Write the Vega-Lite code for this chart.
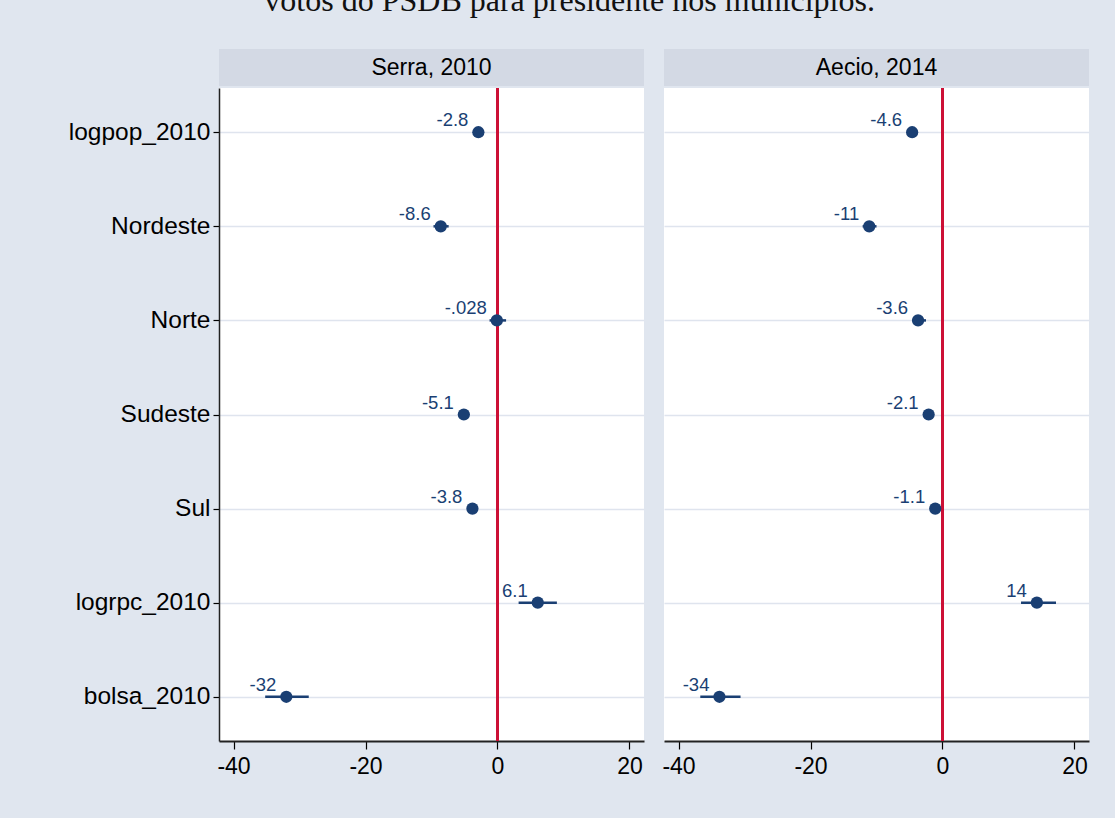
{
  "$schema": "https://vega.github.io/schema/vega-lite/v6.json",
  "background": "#e0e6ef",
  "padding": {"top": -15, "left": 68, "right": 30, "bottom": 50},
  "title": {
    "text": "votos do PSDB para presidente nos municípios.",
    "font": "Liberation Serif",
    "fontSize": 32,
    "fontWeight": "normal",
    "color": "#111111",
    "anchor": "middle",
    "dx": -9,
    "offset": 31
  },
  "datasets": {
    "coef": [
      {"model": "Serra", "var": "logpop_2010", "b": -2.9, "lo": -3.4, "hi": -2.4, "lab": "-2.8"},
      {"model": "Serra", "var": "Nordeste", "b": -8.6, "lo": -9.7, "hi": -7.4, "lab": "-8.6"},
      {"model": "Serra", "var": "Norte", "b": -0.1, "lo": -1.2, "hi": 1.3, "lab": "-.028"},
      {"model": "Serra", "var": "Sudeste", "b": -5.1, "lo": -5.7, "hi": -4.5, "lab": "-5.1"},
      {"model": "Serra", "var": "Sul", "b": -3.8, "lo": -4.4, "hi": -3.2, "lab": "-3.8"},
      {"model": "Serra", "var": "logrpc_2010", "b": 6.1, "lo": 3.2, "hi": 9.0, "lab": "6.1"},
      {"model": "Serra", "var": "bolsa_2010", "b": -32.0, "lo": -35.2, "hi": -28.6, "lab": "-32"},
      {"model": "Aecio", "var": "logpop_2010", "b": -4.6, "lo": -5.1, "hi": -4.1, "lab": "-4.6"},
      {"model": "Aecio", "var": "Nordeste", "b": -11.1, "lo": -12.1, "hi": -10.0, "lab": "-11"},
      {"model": "Aecio", "var": "Norte", "b": -3.7, "lo": -4.6, "hi": -2.5, "lab": "-3.6"},
      {"model": "Aecio", "var": "Sudeste", "b": -2.1, "lo": -2.6, "hi": -1.6, "lab": "-2.1"},
      {"model": "Aecio", "var": "Sul", "b": -1.1, "lo": -1.6, "hi": -0.6, "lab": "-1.1"},
      {"model": "Aecio", "var": "logrpc_2010", "b": 14.3, "lo": 11.9, "hi": 17.2, "lab": "14"},
      {"model": "Aecio", "var": "bolsa_2010", "b": -33.8, "lo": -36.7, "hi": -30.6, "lab": "-34"}
    ]
  },
  "bounds": "flush",
  "columns": 2,
  "spacing": {"row": 2, "column": 20},
  "concat": [
    {
      "width": 425, "height": 37,
      "view": {"fill": "#d3d9e4", "stroke": null},
      "data": {"values": [{"t": "Serra, 2010"}]},
      "mark": {"type": "text", "fontSize": 23, "font": "Liberation Sans", "color": "#000000"},
      "encoding": {"text": {"field": "t"}}
    },
    {
      "width": 425, "height": 37,
      "view": {"fill": "#d3d9e4", "stroke": null},
      "data": {"values": [{"t": "Aecio, 2014"}]},
      "mark": {"type": "text", "fontSize": 23, "font": "Liberation Sans", "color": "#000000"},
      "encoding": {"text": {"field": "t"}}
    },
    {
      "width": 425, "height": 653,
      "view": {"fill": "#ffffff", "stroke": null},
      "data": {"name": "coef"},
      "transform": [{"filter": "datum.model === 'Serra'"}],
      "encoding": {
        "y": {
          "field": "var", "type": "nominal",
          "scale": {"type": "point", "padding": 0.47, "domain": ["logpop_2010", "Nordeste", "Norte", "Sudeste", "Sul", "logrpc_2010", "bolsa_2010"]},
          "axis": {"title": null, "labelFontSize": 24.5, "labelColor": "#000000", "labelPadding": 3, "tickSize": 6, "tickColor": "#000000", "tickWidth": 1.2, "domainColor": "#222222", "domainWidth": 1.5, "grid": true, "gridColor": "#dfe4ee", "gridWidth": 1.5}
        }
      },
      "layer": [
        {
          "mark": {"type": "rule", "color": "#cc1036", "strokeWidth": 2},
          "encoding": {"x": {"datum": 0, "type": "quantitative", "scale": {"domain": [-42.2, 22.2], "nice": false, "zero": false}}, "y": null}
        },
        {
          "mark": {"type": "rule", "color": "#1a3f73", "strokeWidth": 2.5},
          "encoding": {
            "x": {"field": "lo", "type": "quantitative", "scale": {"domain": [-42.2, 22.2], "nice": false, "zero": false},
              "axis": {"title": null, "values": [-40, -20, 0, 20], "labelExpr": "replace(datum.label, '−', '-')", "labelFontSize": 23, "labelColor": "#000000", "labelPadding": 6, "tickSize": 8, "tickColor": "#000000", "tickWidth": 1.2, "domainColor": "#222222", "domainWidth": 2, "grid": false}},
            "x2": {"field": "hi"}
          }
        },
        {
          "mark": {"type": "point", "filled": true, "opacity": 1, "size": 150, "color": "#1a3f73"},
          "encoding": {"x": {"field": "b", "type": "quantitative"}}
        },
        {
          "mark": {"type": "text", "align": "right", "baseline": "alphabetic", "dx": -10, "dy": -6, "fontSize": 18.5, "font": "Liberation Sans", "color": "#1a3f73"},
          "encoding": {"x": {"field": "b", "type": "quantitative"}, "text": {"field": "lab"}}
        }
      ]
    },
    {
      "width": 425, "height": 653,
      "view": {"fill": "#ffffff", "stroke": null},
      "data": {"name": "coef"},
      "transform": [{"filter": "datum.model === 'Aecio'"}],
      "encoding": {
        "y": {
          "field": "var", "type": "nominal",
          "scale": {"type": "point", "padding": 0.47, "domain": ["logpop_2010", "Nordeste", "Norte", "Sudeste", "Sul", "logrpc_2010", "bolsa_2010"]},
          "axis": {"title": null, "labels": false, "ticks": false, "domain": false, "grid": true, "gridColor": "#dfe4ee", "gridWidth": 1.5}
        }
      },
      "layer": [
        {
          "mark": {"type": "rule", "color": "#cc1036", "strokeWidth": 2},
          "encoding": {"x": {"datum": 0, "type": "quantitative", "scale": {"domain": [-42.2, 22.2], "nice": false, "zero": false}}, "y": null}
        },
        {
          "mark": {"type": "rule", "color": "#1a3f73", "strokeWidth": 2.5},
          "encoding": {
            "x": {"field": "lo", "type": "quantitative", "scale": {"domain": [-42.2, 22.2], "nice": false, "zero": false},
              "axis": {"title": null, "values": [-40, -20, 0, 20], "labelExpr": "replace(datum.label, '−', '-')", "labelFontSize": 23, "labelColor": "#000000", "labelPadding": 6, "tickSize": 8, "tickColor": "#000000", "tickWidth": 1.2, "domainColor": "#222222", "domainWidth": 2, "grid": false}},
            "x2": {"field": "hi"}
          }
        },
        {
          "mark": {"type": "point", "filled": true, "opacity": 1, "size": 150, "color": "#1a3f73"},
          "encoding": {"x": {"field": "b", "type": "quantitative"}}
        },
        {
          "mark": {"type": "text", "align": "right", "baseline": "alphabetic", "dx": -10, "dy": -6, "fontSize": 18.5, "font": "Liberation Sans", "color": "#1a3f73"},
          "encoding": {"x": {"field": "b", "type": "quantitative"}, "text": {"field": "lab"}}
        }
      ]
    }
  ],
  "config": {
    "font": "Liberation Sans",
    "view": {"stroke": null},
    "axis": {"labelFont": "Liberation Sans"}
  }
}
